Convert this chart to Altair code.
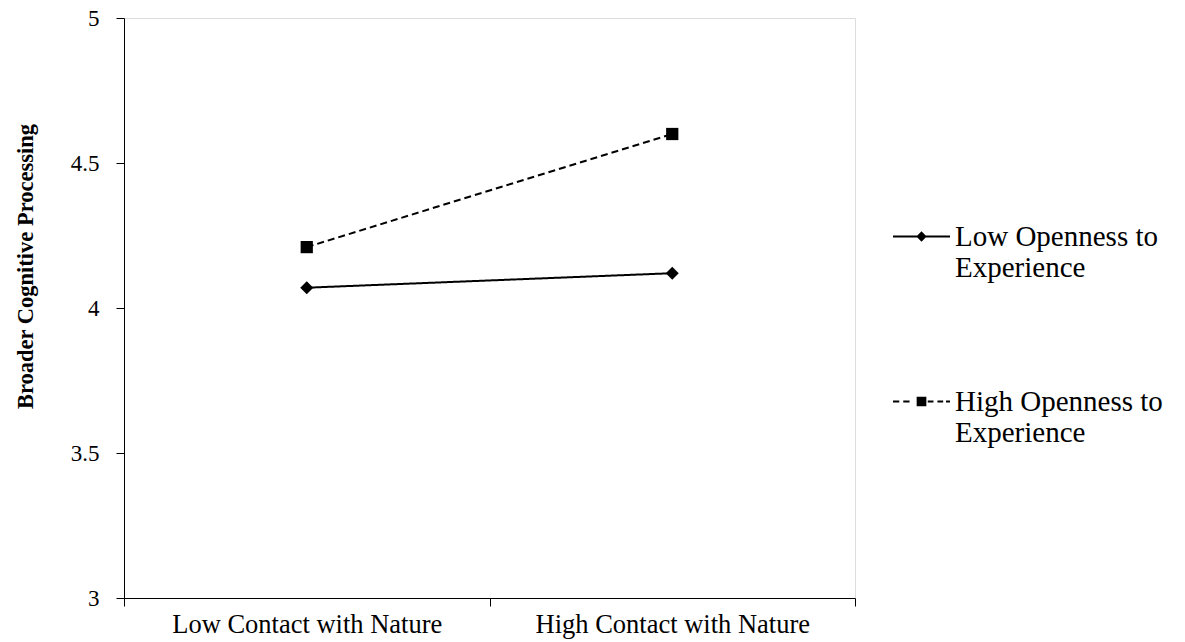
import altair as alt
import pandas as pd

categories = ["Low Contact with Nature", "High Contact with Nature"]
series_names = ["Low Openness to Experience", "High Openness to Experience"]
low_openness = [4.07, 4.12]
high_openness = [4.21, 4.60]
y_ticks = [3, 3.5, 4, 4.5, 5]

rows = []
for name, vals in zip(series_names, [low_openness, high_openness]):
    for c, v in zip(categories, vals):
        rows.append({"category": c, "series": name, "value": v})
df = pd.DataFrame(rows)

FONT = "Liberation Serif"

# legend glyphs: line with marker, built from filled pieces only
t = 0.035
low_path = (f"M-1,-{t}H1V{t}H-1Z"
            "M-0.18,0L0,-0.18L0.18,0L0,0.18Z")
dashes = [(-1, -0.78), (-0.64, -0.42), (0.22, 0.42), (0.56, 0.76), (0.86, 1.0)]
high_path = "".join(f"M{a},-{t}H{b}V{t}H{a}Z" for a, b in dashes)
high_path += "M-0.17,-0.17H0.17V0.17H-0.17Z"

x_enc = alt.X(
    "category:N",
    sort=categories,
    scale=alt.Scale(type="band", paddingInner=0, paddingOuter=0),
    axis=alt.Axis(
        title=None, tickBand="extent", labelAngle=0, labelFont=FONT,
        labelFontSize=26.5, labelColor="black", labelPadding=5, tickSize=8,
        tickColor="black", domainColor="black", labelLimit=400,
    ),
)
y_enc = alt.Y(
    "value:Q",
    scale=alt.Scale(domain=[3, 5], nice=False, zero=False),
    axis=alt.Axis(
        values=y_ticks, format="~g", title="Broader Cognitive Processing",
        titleFont=FONT, titleFontSize=22.5, titleFontWeight="bold",
        titleColor="black", titleX=-99, titleY=248, titleBaseline="middle",
        titleAngle=-90,
        labelFont=FONT, labelFontSize=23, labelColor="black",
        labelPadding=17, tickSize=8, tickColor="black", domainColor="black",
        grid=False,
    ),
)

base = alt.Chart(df)

lines = base.mark_line(color="black", strokeWidth=2).encode(
    x=x_enc,
    y=y_enc,
    strokeDash=alt.StrokeDash(
        "series:N",
        scale=alt.Scale(domain=series_names, range=[[1, 0], [7, 4]]),
        legend=None,
    ),
    detail="series:N",
)

points = base.mark_point(filled=True, color="black", opacity=1).encode(
    x=x_enc,
    y=y_enc,
    shape=alt.Shape(
        "series:N",
        scale=alt.Scale(domain=series_names, range=["diamond", "square"]),
        legend=None,
    ),
    size=alt.Size(
        "series:O",
        scale=alt.Scale(domain=series_names, range=[170, 150]),
        legend=None,
    ),
)

legend_layer = base.mark_point(
    filled=True, color="black", fillOpacity=0, strokeOpacity=0
).encode(
    x=x_enc,
    y=y_enc,
    shape=alt.Shape(
        "series:N",
        scale=alt.Scale(domain=series_names, range=[low_path, high_path]),
        legend=alt.Legend(
            title=None, orient="none", legendX=769, legendY=190, padding=0,
            symbolSize=3249, labelFont=FONT, labelFontSize=29,
            labelColor="black", labelLimit=400,
            labelOffset=5, rowPadding=90,
            symbolFillColor="black", symbolStrokeWidth=0, symbolOpacity=1,
            labelExpr="split(replace(datum.label, ' Experience', '|Experience'), '|')",
        ),
    ),
)

chart = (
    alt.layer(lines, points, legend_layer)
    .resolve_scale(shape="independent", size="independent")
    .properties(
        width=731, height=580,
        autosize=alt.AutoSizeParams(type="none"),
        padding={"left": 116, "top": 10, "right": 320, "bottom": 42},
    )
    .configure_view(stroke="#8c8c8c", strokeWidth=1)
    .configure(background="white")
)

chart.save("out.html", embed_options={"renderer": "svg", "actions": False})
